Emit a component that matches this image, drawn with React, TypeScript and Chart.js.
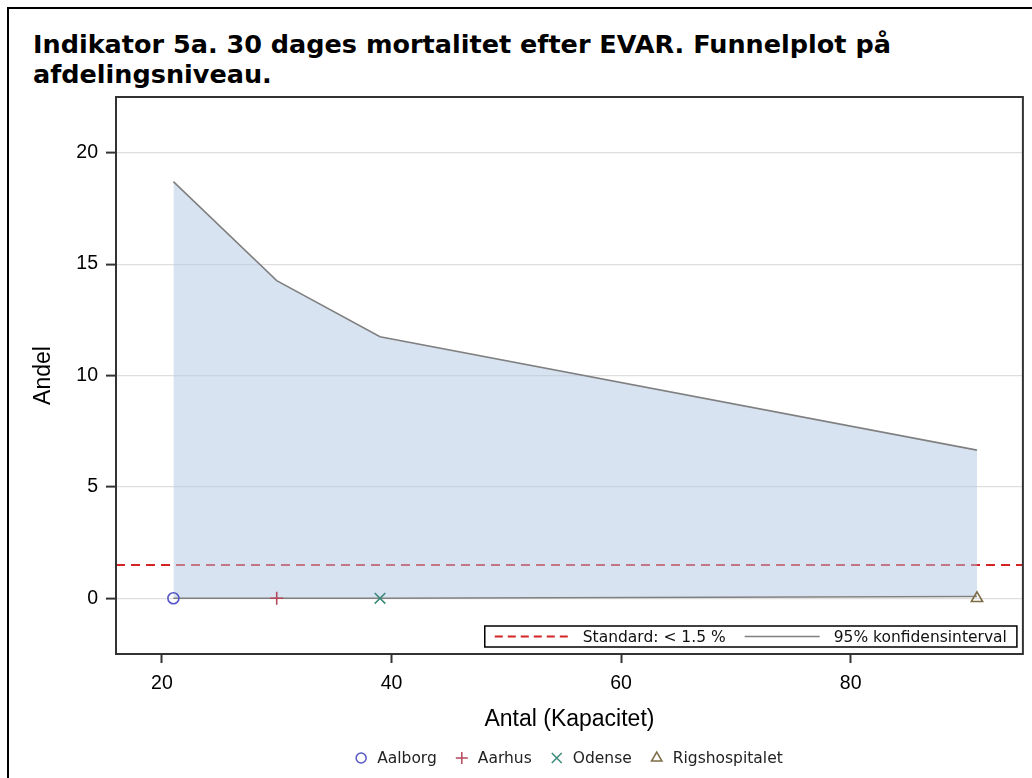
import React, { useEffect, useRef } from "react";
import { Chart, registerables } from "chart.js";

Chart.register(...registerables);

// ---------- data ----------
const TITLE_LINES = [
  "Indikator 5a. 30 dages mortalitet efter EVAR. Funnelplot på",
  "afdelingsniveau.",
];
const HOSPITALS = ["Aalborg", "Aarhus", "Odense", "Rigshospitalet"];
const HOSPITAL_ANTAL = [21, 30, 39, 91];
const HOSPITAL_ANDEL = [0, 0, 0, 0];
const CI_ANTAL = [21, 30, 39, 91];
const CI_UPPER = [18.7, 14.26, 11.74, 6.65];
const CI_LOWER = [0, 0, 0, 0.08];
const STANDARD = 1.5;
const X_RANGE = [16, 95];
const Y_RANGE = [-2.5, 22.5];
const X_TICKS = [20, 40, 60, 80];
const Y_TICKS = [0, 5, 10, 15, 20];
const X_TITLE = "Antal (Kapacitet)";
const Y_TITLE = "Andel";
const STANDARD_LABEL = "Standard: < 1.5 %";
const CI_LABEL = "95% konfidensinterval";

// ---------- styles ----------
const MARKER_STYLES = ["circle", "cross", "crossRot", "triangle"];
const MARKER_COLORS = ["#5656c6", "#b4485c", "#3a8a78", "#7d6c45"];
const MARKER_RADII = [5.5, 6.5, 7.5, 6.5];
const CI_LINE_COLOR = "#808080";
const BAND_COLOR = "rgba(178,200,229,0.5)";
const STANDARD_COLOR = "#d42424";
const FRAME_COLOR = "#333333";
const AXIS_FONT = "'Liberation Sans', Arial, sans-serif";
const LEGEND_FONT = "'DejaVu Sans', sans-serif";

function drawMarker(
  ctx: CanvasRenderingContext2D,
  style: string,
  x: number,
  y: number,
  r: number,
  color: string
) {
  ctx.save();
  ctx.beginPath();
  ctx.strokeStyle = color;
  ctx.lineWidth = 1.5;
  if (style === "circle") {
    ctx.arc(x, y, r, 0, Math.PI * 2);
  } else if (style === "cross") {
    ctx.moveTo(x - r, y);
    ctx.lineTo(x + r, y);
    ctx.moveTo(x, y - r);
    ctx.lineTo(x, y + r);
  } else if (style === "crossRot") {
    const d = r * Math.SQRT1_2;
    ctx.moveTo(x - d, y - d);
    ctx.lineTo(x + d, y + d);
    ctx.moveTo(x - d, y + d);
    ctx.lineTo(x + d, y - d);
  } else if (style === "triangle") {
    for (let i = 0; i < 3; i++) {
      const a = (i * 2 * Math.PI) / 3;
      const px = x + Math.sin(a) * r;
      const py = y - Math.cos(a) * r;
      if (i === 0) ctx.moveTo(px, py);
      else ctx.lineTo(px, py);
    }
    ctx.closePath();
  }
  ctx.stroke();
  ctx.restore();
}

const decorPlugin = {
  id: "decor",
  afterDraw(chart: any) {
    const { ctx, chartArea: ca } = chart;
    ctx.save();

    // frame around plot area
    ctx.strokeStyle = FRAME_COLOR;
    ctx.lineWidth = 2;
    ctx.strokeRect(ca.left, ca.top, ca.right - ca.left, ca.bottom - ca.top);

    // inset legend
    ctx.font = `15.5px ${LEGEND_FONT}`;
    const w1 = ctx.measureText(STANDARD_LABEL).width;
    const w2 = ctx.measureText(CI_LABEL).width;
    const pad = 10;
    const sample1 = 76;
    const sample2 = 75;
    const total = pad + sample1 + 12 + w1 + 19 + sample2 + 14 + w2 + pad;
    const boxRight = ca.right - 6;
    const boxBottom = ca.bottom - 7;
    const boxH = 21;
    const boxLeft = boxRight - total;
    const boxTop = boxBottom - boxH;
    const cy = boxTop + boxH / 2;
    ctx.fillStyle = "#ffffff";
    ctx.fillRect(boxLeft, boxTop, total, boxH);
    ctx.strokeStyle = "#000000";
    ctx.lineWidth = 1.5;
    ctx.strokeRect(boxLeft, boxTop, total, boxH);

    let x = boxLeft + pad;
    ctx.beginPath();
    ctx.setLineDash([8, 5]);
    ctx.strokeStyle = STANDARD_COLOR;
    ctx.lineWidth = 2;
    ctx.moveTo(x, cy);
    ctx.lineTo(x + sample1, cy);
    ctx.stroke();
    ctx.setLineDash([]);
    x += sample1 + 12;
    ctx.fillStyle = "#111111";
    ctx.textBaseline = "middle";
    ctx.textAlign = "left";
    ctx.fillText(STANDARD_LABEL, x, cy + 1);
    x += w1 + 19;
    ctx.beginPath();
    ctx.strokeStyle = CI_LINE_COLOR;
    ctx.lineWidth = 1.5;
    ctx.moveTo(x, cy);
    ctx.lineTo(x + sample2, cy);
    ctx.stroke();
    x += sample2 + 14;
    ctx.fillText(CI_LABEL, x, cy + 1);

    // bottom legend
    const widths = HOSPITALS.map((h) => ctx.measureText(h).width);
    const markerHalf = 5;
    const toText = 16;
    const toNext = 25;
    let groupW = markerHalf;
    HOSPITALS.forEach((_, i) => {
      groupW += toText + widths[i];
      if (i < HOSPITALS.length - 1) groupW += toNext;
    });
    const center = (ca.left + ca.right) / 2;
    let mx = center - groupW / 2 + markerHalf;
    const ly = 758;
    HOSPITALS.forEach((h, i) => {
      drawMarker(ctx, MARKER_STYLES[i], mx, ly, MARKER_RADII[i] - 0.5, MARKER_COLORS[i]);
      ctx.fillStyle = "#222222";
      ctx.fillText(h, mx + toText, ly + 1);
      mx += toText + widths[i] + toNext;
    });

    ctx.restore();
  },
};

export default function App() {
  const canvasRef = useRef<HTMLCanvasElement | null>(null);

  useEffect(() => {
    if (!canvasRef.current) return;
    const ciUpper = CI_ANTAL.map((n, i) => ({ x: n, y: CI_UPPER[i] }));
    const ciLower = CI_ANTAL.map((n, i) => ({ x: n, y: CI_LOWER[i] }));
    const standardLine = X_RANGE.map((x) => ({ x, y: STANDARD }));
    const hospitalSets = HOSPITALS.map((h, i) => ({
      label: h,
      type: "scatter" as const,
      data: [{ x: HOSPITAL_ANTAL[i], y: HOSPITAL_ANDEL[i] }],
      pointStyle: MARKER_STYLES[i],
      pointRadius: MARKER_RADII[i],
      pointBorderColor: MARKER_COLORS[i],
      pointBackgroundColor: "rgba(0,0,0,0)",
      pointBorderWidth: 1.6,
      showLine: false,
      order: 0,
    }));

    const chart = new Chart(canvasRef.current, {
      type: "scatter",
      data: {
        datasets: [
          {
            label: "upper",
            data: ciUpper,
            showLine: true,
            borderColor: CI_LINE_COLOR,
            borderWidth: 1.6,
            pointRadius: 0,
            fill: "+1",
            backgroundColor: BAND_COLOR,
            order: 5,
          } as any,
          {
            label: "lower",
            data: ciLower,
            showLine: true,
            borderColor: CI_LINE_COLOR,
            borderWidth: 1.6,
            pointRadius: 0,
            fill: false,
            order: 4,
          },
          {
            label: "standard",
            data: standardLine,
            showLine: true,
            borderColor: STANDARD_COLOR,
            borderWidth: 2,
            borderDash: [9, 6],
            pointRadius: 0,
            fill: false,
            order: 10,
          },
          ...hospitalSets,
        ],
      },
      options: {
        animation: false,
        responsive: false,
        layout: { padding: { top: 97, right: 8, left: 0, bottom: 0 } },
        plugins: {
          legend: { display: false },
          tooltip: { enabled: false },
          title: { display: false },
        },
        scales: {
          x: {
            type: "linear",
            min: X_RANGE[0],
            max: X_RANGE[1],
            afterBuildTicks: (scale: any) => {
              scale.ticks = X_TICKS.map((v) => ({ value: v }));
            },
            afterFit: (scale: any) => {
              scale.height = 124;
            },
            border: { display: false },
            grid: {
              drawOnChartArea: false,
              drawTicks: true,
              tickLength: 9,
              tickColor: FRAME_COLOR,
              tickWidth: 2,
            },
            ticks: {
              color: "#000",
              font: { family: AXIS_FONT, size: 19.5 },
              padding: 9,
              maxRotation: 0,
              autoSkip: false,
            },
            title: {
              display: true,
              text: X_TITLE,
              color: "#000",
              font: { family: AXIS_FONT, size: 23 },
              padding: { top: 0, bottom: 45 },
            },
          },
          y: {
            type: "linear",
            min: Y_RANGE[0],
            max: Y_RANGE[1],
            afterBuildTicks: (scale: any) => {
              scale.ticks = Y_TICKS.map((v) => ({ value: v }));
            },
            afterFit: (scale: any) => {
              scale.width = 116;
            },
            border: { display: false },
            grid: {
              color: "#dedede",
              lineWidth: 1.2,
              drawTicks: true,
              tickLength: 10,
              tickColor: FRAME_COLOR,
              tickWidth: 2,
            },
            ticks: {
              color: "#000",
              font: { family: AXIS_FONT, size: 19.5 },
              padding: 8,
              autoSkip: false,
            },
            title: {
              display: true,
              text: Y_TITLE,
              color: "#000",
              font: { family: AXIS_FONT, size: 23 },
              padding: { top: 30, bottom: 0 },
            },
          },
        },
      },
      plugins: [decorPlugin],
    });
    return () => chart.destroy();
  }, []);

  return (
    <div
      style={{
        position: "fixed",
        left: 0,
        top: 0,
        width: 1032,
        height: 778,
        background: "#ffffff",
        overflow: "hidden",
      }}
    >
      <div
        style={{
          position: "absolute",
          left: 7,
          top: 7,
          width: 1200,
          height: 1000,
          borderLeft: "2px solid #000",
          borderTop: "2px solid #000",
        }}
      />
      <div
        style={{
          position: "absolute",
          left: 33,
          top: 29,
          fontFamily: "'DejaVu Sans', sans-serif",
          fontWeight: "bold",
          fontSize: 25.5,
          lineHeight: "30px",
          color: "#000",
          whiteSpace: "nowrap",
        }}
      >
        {TITLE_LINES.map((t) => (
          <div key={t}>{t}</div>
        ))}
      </div>
      <canvas
        ref={canvasRef}
        width={1032}
        height={778}
        style={{ position: "absolute", left: 0, top: 0 }}
      />
    </div>
  );
}
